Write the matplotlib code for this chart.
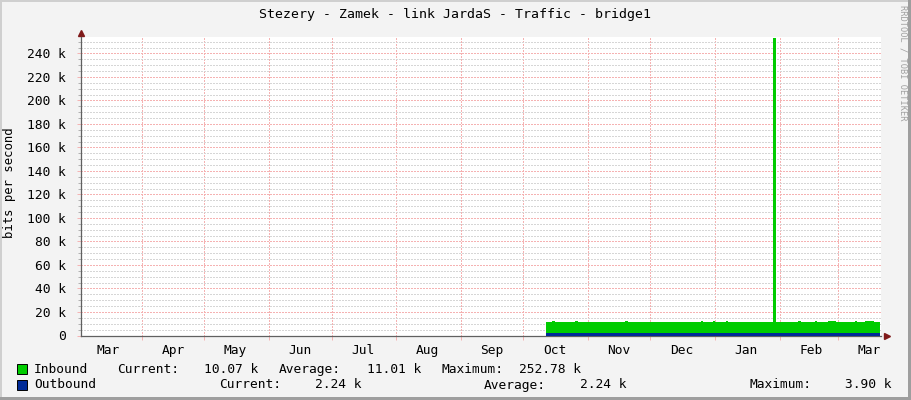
import matplotlib
matplotlib.use('Agg')
import matplotlib.pyplot as plt
import matplotlib.dates as mdates
import pandas as pd
from matplotlib.ticker import MultipleLocator, FuncFormatter
from matplotlib.patches import Rectangle

# traffic data, k bits per second (change points, drawn as steps)
in_dates = ['2013-10-12', '2013-10-15', '2013-10-16', '2013-10-26', '2013-10-27',
            '2013-11-19', '2013-11-20', '2013-12-25', '2013-12-26', '2013-12-31',
            '2014-01-01', '2014-01-06', '2014-01-07', '2014-01-29', '2014-01-30',
            '2014-02-10', '2014-02-11', '2014-02-18', '2014-02-19', '2014-02-24',
            '2014-02-28', '2014-03-09', '2014-03-10', '2014-03-14', '2014-03-18',
            '2014-03-21']
in_kbps = [11.6, 12.3, 11.6, 12.2, 11.6,
           12.1, 11.6, 12.2, 11.6, 12.2,
           11.6, 12.1, 11.6, 252.78, 11.6,
           12.2, 11.6, 12.3, 11.6, 12.4,
           11.6, 12.3, 11.6, 12.4, 11.8,
           11.8]
out_dates = ['2013-10-12', '2014-03-21']
out_kbps = [2.24, 2.24]

x_start = '2013-03-02 20:00'
x_end = '2014-03-21 14:00'

legend_rows = [
    ('Inbound', '#00CC00', [('Current:', 117), ('10.07 k', 204), ('Average:', 279),
                            ('11.01 k', 367), ('Maximum:', 441), ('252.78 k', 519)]),
    ('Outbound', '#002A97', [('Current:', 219), ('2.24 k', 315), ('Average:', 484),
                             ('2.24 k', 580), ('Maximum:', 749), ('3.90 k', 845)]),
]

W, H = 911, 400
plt.rcParams['font.family'] = 'DejaVu Sans Mono'
fig = plt.figure(figsize=(W / 100, H / 100), dpi=100, facecolor='#F3F3F3')

def px(x, y):
    return x / W, 1 - y / H

# plot area in pixels
left, right, top, bottom = 81, 881, 37, 335.5
ax = fig.add_axes([left / W, 1 - bottom / H, (right - left) / W, (bottom - top) / H])
ax.set_facecolor('white')

d_in = pd.to_datetime(in_dates)
d_out = pd.to_datetime(out_dates)
ax.fill_between(d_in, 0, in_kbps, step='post', color='#00CC00', lw=0, zorder=3)
ax.fill_between(d_out, 0, out_kbps, step='post', color='#002A97', lw=0, zorder=4)

ax.set_xlim(pd.Timestamp(x_start), pd.Timestamp(x_end))
ax.set_ylim(0, 254)

# grid
ax.yaxis.set_major_locator(MultipleLocator(20))
ax.yaxis.set_minor_locator(MultipleLocator(5))
ax.yaxis.set_major_formatter(FuncFormatter(lambda v, p: '0' if v == 0 else '%d k' % v))
ax.xaxis.set_major_locator(mdates.MonthLocator(bymonthday=1))
ax.xaxis.set_minor_locator(mdates.MonthLocator(bymonthday=16))
ax.xaxis.set_major_formatter(plt.NullFormatter())
ax.xaxis.set_minor_formatter(mdates.DateFormatter('%b'))

dots = (0, (1.4, 1.4))
ax.grid(which='minor', axis='y', color='#D6D6D6', lw=0.72, ls=dots, antialiased=False)
ax.grid(which='major', axis='y', color='#F5B2B2', lw=0.72, ls=dots, antialiased=False)
ax.grid(which='major', axis='x', color='#F5B2B2', lw=0.72, ls=dots, antialiased=False)

ax.tick_params(axis='y', which='major', length=3, width=0.7, color='#F5B2B2',
               pad=8, labelsize=9.3)
ax.tick_params(axis='y', which='minor', length=2, width=0.7, color='#B0B0B0')
ax.tick_params(axis='x', which='major', length=3, width=0.7, color='#F5B2B2')
ax.tick_params(axis='x', which='minor', length=0, pad=6, labelsize=9.3)

for s in ['top', 'right']:
    ax.spines[s].set_visible(False)
for s in ['left', 'bottom']:
    ax.spines[s].set_color('#606060')
    ax.spines[s].set_linewidth(0.9)

# axis arrows
ax.plot([0], [1.012], marker='^', ms=5, color='#7F1A1A', transform=ax.transAxes, clip_on=False)
ax.plot([1.008], [0], marker='>', ms=5, color='#7F1A1A', transform=ax.transAxes, clip_on=False)

# title and labels
fig.text(*px(455, 18), 'Stezery - Zamek - link JardaS - Traffic - bridge1',
         ha='center', va='baseline', fontsize=9.5)
fig.text(*px(10, 183), 'bits per second', rotation=90, ha='center', va='center', fontsize=8.8)
fig.text(*px(903, 5), 'RRDTOOL / TOBI OETIKER', rotation=270, ha='center', va='top',
         fontsize=6.2, color='#A0A0A0')

# legend
for i, (name, col, items) in enumerate(legend_rows):
    y = 373 + i * 15.5
    fig.patches.append(Rectangle(px(17, y + 1), 10 / W, 10 / H, transform=fig.transFigure,
                                 facecolor=col, edgecolor='black', lw=0.7))
    fig.text(*px(34, y), name, va='baseline', fontsize=9.3)
    for txt, x in items:
        fig.text(*px(x, y), txt, va='baseline', fontsize=9.3)

# frame border
fig.patches.append(Rectangle((0, 0), 2 / W, 1, transform=fig.transFigure, color='#CFCFCF', lw=0))
fig.patches.append(Rectangle((0, 1 - 2 / H), 1, 2 / H, transform=fig.transFigure, color='#CFCFCF', lw=0))
fig.patches.append(Rectangle((1 - 3 / W, 0), 3 / W, 1, transform=fig.transFigure, color='#9E9E9E', lw=0))
fig.patches.append(Rectangle((0, 0), 1, 3 / H, transform=fig.transFigure, color='#9E9E9E', lw=0))

fig.savefig('out.png', dpi=100, facecolor=fig.get_facecolor())
